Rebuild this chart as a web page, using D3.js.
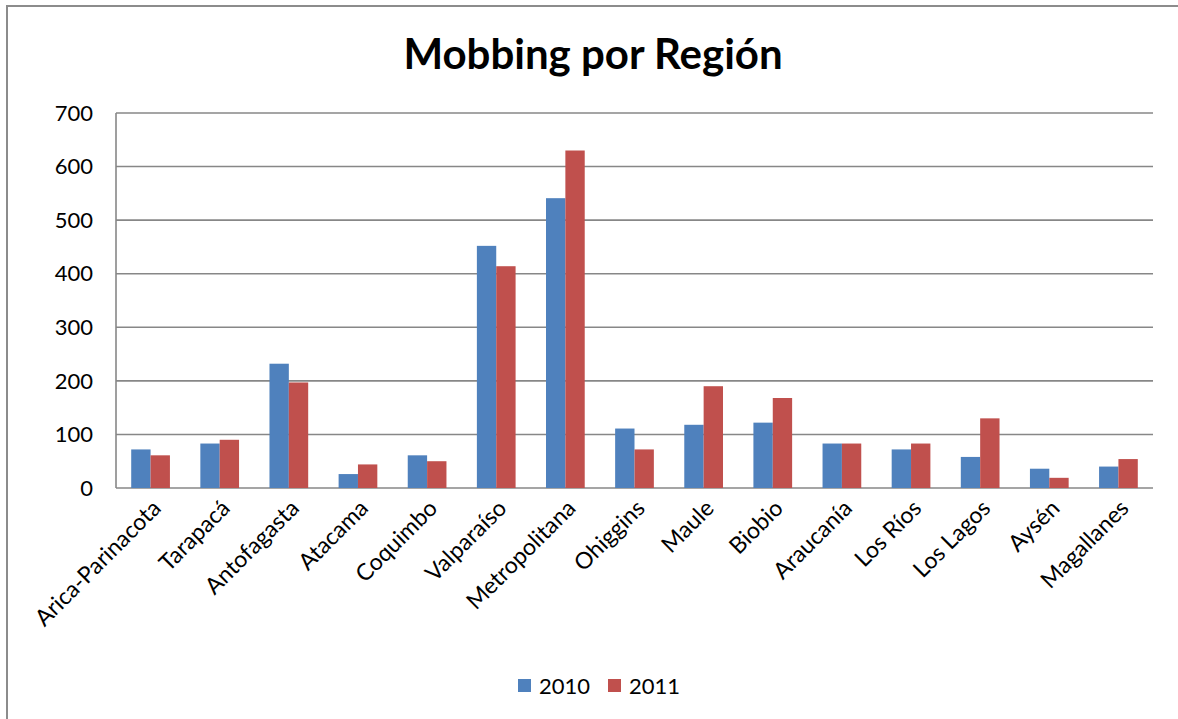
<!DOCTYPE html>
<html>
<head>
<meta charset="utf-8">
<script src="https://cdn.jsdelivr.net/npm/d3@7"></script>
<style>
  body { margin: 0; background: #fff; }
  svg { display: block; font-family: Lato, "Open Sans", sans-serif; }
</style>
</head>
<body>
<div id="chart"></div>
<script>
// Mobbing por Región — grouped bars 2010 vs 2011
const regions = ['Arica-Parinacota', 'Tarapacá', 'Antofagasta', 'Atacama', 'Coquimbo', 'Valparaíso',
  'Metropolitana', 'Ohiggins', 'Maule', 'Biobio', 'Araucanía', 'Los Ríos', 'Los Lagos', 'Aysén', 'Magallanes'];
const years = ['2010', '2011'];
const values2010 = [72, 83, 232, 26, 61, 452, 541, 111, 118, 122, 83, 72, 58, 36, 40];
const values2011 = [61, 90, 197, 44, 50, 414, 630, 72, 190, 168, 83, 83, 130, 19, 54];
const yTicks = [0, 100, 200, 300, 400, 500, 600, 700];

const width = 1178, height = 719;
const margin = { left: 116, right: 25, top: 113, bottom: 231 };
const colors = { '2010': '#4f81bd', '2011': '#c0504d' };

const svg = d3.select('#chart').append('svg').attr('width', width).attr('height', height);

// outer frame (top and left edge visible)
svg.append('path')
  .attr('d', `M7,${height} V6 H${width}`)
  .attr('fill', 'none')
  .attr('stroke', '#8c8c8c')
  .attr('stroke-width', 2);

svg.append('text')
  .attr('x', 593).attr('y', 69)
  .attr('text-anchor', 'middle')
  .style('font-size', '42px').style('font-weight', 'bold')
  .text('Mobbing por Región');

const x = d3.scaleBand().domain(regions).range([margin.left, width - margin.right]).paddingInner(0.44).paddingOuter(0.22);
const xs = d3.scaleBand().domain(years).range([0, x.bandwidth()]);
const y = d3.scaleLinear().domain([0, 700]).range([height - margin.bottom, margin.top]);

// gridlines
svg.append('g')
  .selectAll('line')
  .data(yTicks)
  .enter().append('line')
  .attr('x1', margin.left).attr('x2', width - margin.right)
  .attr('y1', d => y(d)).attr('y2', d => y(d))
  .attr('stroke', '#878787').attr('stroke-width', 1.6);

// y labels
svg.append('g')
  .selectAll('text')
  .data(yTicks)
  .enter().append('text')
  .attr('x', 93).attr('y', d => y(d))
  .attr('dy', '0.35em')
  .attr('text-anchor', 'end')
  .style('font-size', '22px')
  .text(d => d);

// y axis line
svg.append('line')
  .attr('x1', margin.left).attr('x2', margin.left)
  .attr('y1', y(700)).attr('y2', y(0))
  .attr('stroke', '#878787').attr('stroke-width', 1.6);

// bars
const rows = regions.map((r, i) => ({ region: r, values: [
  { year: '2010', value: values2010[i] },
  { year: '2011', value: values2011[i] }
] }));

svg.append('g')
  .selectAll('g')
  .data(rows)
  .enter().append('g')
  .attr('transform', d => `translate(${x(d.region)},0)`)
  .selectAll('rect')
  .data(d => d.values)
  .enter().append('rect')
  .attr('x', d => xs(d.year))
  .attr('width', xs.bandwidth())
  .attr('y', d => y(d.value))
  .attr('height', d => y(0) - y(d.value))
  .attr('fill', d => colors[d.year]);

// x labels
svg.append('g')
  .selectAll('text')
  .data(regions)
  .enter().append('text')
  .attr('transform', d => `translate(${x(d) + x.bandwidth() / 2 + 6},${y(0) + 16}) rotate(-45)`)
  .attr('text-anchor', 'end')
  .attr('dy', '0.35em')
  .style('font-size', '23px')
  .text(d => d);

// legend
const legend = svg.append('g').attr('transform', 'translate(518,679)');
years.forEach((yr, i) => {
  const g = legend.append('g').attr('transform', `translate(${i * 90},0)`);
  g.append('rect').attr('width', 13).attr('height', 13).attr('fill', colors[yr]);
  g.append('text').attr('x', 21).attr('y', 7).attr('dy', '0.35em').style('font-size', '22px').text(yr);
});
</script>
</body>
</html>
